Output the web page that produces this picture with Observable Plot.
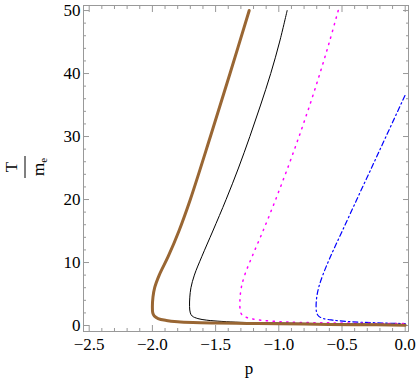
<!DOCTYPE html>
<html><head><meta charset="utf-8">
<script src="https://cdn.jsdelivr.net/npm/d3@7"></script>
<script src="https://cdn.jsdelivr.net/npm/@observablehq/plot@0.6"></script>
<style>body{margin:0;background:#fff} svg{display:block}</style>
</head><body><div id="chart"></div>
<script>
// Curve data (p, T/m_e)
const brownP = [-1.234,-1.386,-1.541,-1.700,-1.790,-1.874,-1.946,-1.982,-1.9955,-2.0,-1.997,-1.985,-1.955,-1.89,-1.80,-1.68,-1.5,-1.25,-1.0,-0.7,-0.4,0.0];
const brownT = [50,40,30,20,15,11,8,6,4.5,3,2,1.5,1.1,0.8,0.6,0.48,0.4,0.33,0.27,0.2,0.14,0.05];
const blackP = [-0.934,-0.994,-1.064,-1.144,-1.229,-1.319,-1.417,-1.522,-1.608,-1.668,-1.695,-1.704,-1.706,-1.70,-1.685,-1.64,-1.57,-1.45,-1.3,-1.0,-0.5,0.0];
const blackT = [50,45,40,35,30,25,20,15,11,8,6,4.5,3,2,1.5,1.1,0.85,0.65,0.5,0.4,0.27,0.15];
const magentaP = [-0.53,-0.60,-0.675,-0.755,-0.84,-0.93,-1.025,-1.125,-1.21,-1.27,-1.297,-1.306,-1.308,-1.30,-1.28,-1.22,-1.12,-0.98,-0.85,-0.6,-0.3,0.0];
const magentaT = [50,45,40,35,30,25,20,15,11,8,6,4.5,3,2,1.5,1.1,0.8,0.6,0.5,0.42,0.35,0.3];
const blueP = [-0.002,-0.152,-0.267,-0.383,-0.498,-0.59,-0.652,-0.685,-0.70,-0.705,-0.70,-0.685,-0.645,-0.57,-0.46,-0.33,-0.18,0.0];
const blueT = [36.5,30,25,20,15,11,8,6,4.5,3,2,1.5,1.1,0.85,0.65,0.5,0.4,0.3];

const xMajor = [-2.5,-2.0,-1.5,-1.0,-0.5,0.0];
const yMajor = [0,10,20,30,40,50];
const xMinor = d3.range(-25,1).map(d => d/10).filter(v => !xMajor.some(m => Math.abs(m - v) < 1e-9));
const yMinor = d3.range(0,51,2).filter(v => v % 10 !== 0);

const toRows = (P, T) => P.map((p, i) => ({p, T: T[i]}));
const font = "'Liberation Serif','DejaVu Serif',serif";
const gray = "#999";
const curve = "catmull-rom";

const tickAxes = [];
for (const [ticks, size] of [[xMajor, 6], [xMinor, 3]]) {
  tickAxes.push(Plot.axisX({anchor: "bottom", ticks, tickSize: size, insetBottom: size, text: null, stroke: gray}));
  tickAxes.push(Plot.axisX({anchor: "top", ticks, tickSize: size, insetTop: size, text: null, stroke: gray}));
}
for (const [ticks, size] of [[yMajor, 6], [yMinor, 3]]) {
  tickAxes.push(Plot.axisY({anchor: "left", ticks, tickSize: size, insetLeft: size, text: null, stroke: gray}));
  tickAxes.push(Plot.axisY({anchor: "right", ticks, tickSize: size, insetRight: size, text: null, stroke: gray}));
}

const chart = Plot.plot({
  width: 417, height: 386,
  marginLeft: 83, marginRight: 9, marginTop: 5, marginBottom: 55,
  style: {fontFamily: font, fontSize: "17px", color: "black", background: "white"},
  x: {domain: [-2.545, 0.026], label: null},
  y: {domain: [-0.95, 50.8], label: null},
  marks: [
    ...tickAxes,
    Plot.axisX({anchor: "bottom", ticks: xMajor, tickSize: 0, tickPadding: 6, tickFormat: d3.format(".1f"), label: null, fill: "black", fontSize: 17}),
    Plot.axisY({anchor: "left", ticks: yMajor, tickSize: 0, tickPadding: 3, tickFormat: d3.format("d"), label: null, fill: "black", fontSize: 17}),
    Plot.frame({stroke: gray}),
    Plot.line(toRows(blueP, blueT), {x: "p", y: "T", stroke: "#0000ff", strokeWidth: 1.2, strokeDasharray: "5,3,1.5,3", curve}),
    Plot.line(toRows(magentaP, magentaT), {x: "p", y: "T", stroke: "#ff00ff", strokeWidth: 1.5, strokeDasharray: "1.3,5.5", curve}),
    Plot.line(toRows(blackP, blackT), {x: "p", y: "T", stroke: "black", strokeWidth: 1, curve}),
    Plot.line(toRows(brownP, brownT), {x: "p", y: "T", stroke: "#996633", strokeWidth: 3, curve}),
    Plot.text(["p"], {frameAnchor: "bottom", dy: 42, dx: 3, fontSize: 17, fill: "black"})
  ]
});

// y-axis label: rotated fraction T / m_e
const svg = d3.select(chart);
const g = svg.append("g").attr("transform", "translate(25,167) rotate(-90)")
  .attr("font-family", font).attr("font-size", 17).attr("fill", "black");
g.append("text").attr("x", 0).attr("y", -12).attr("text-anchor", "middle").attr("dominant-baseline", "middle").text("T");
g.append("line").attr("x1", -11).attr("x2", 11).attr("y1", 0).attr("y2", 0).attr("stroke", "black").attr("stroke-width", 1);
const m = g.append("text").attr("x", 0).attr("y", 15).attr("text-anchor", "middle").attr("dominant-baseline", "middle");
m.append("tspan").text("m");
m.append("tspan").attr("font-size", 11).attr("dy", 4).text("e");

document.getElementById("chart").append(chart);
</script>
</body></html>
